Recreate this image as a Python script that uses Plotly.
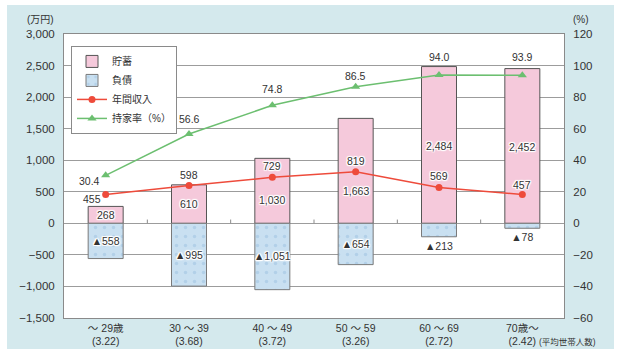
import plotly.graph_objects as go

# ---- data ----
categories = ["～ 29歳<br>(3.22)", "30 ～ 39<br>(3.68)", "40 ～ 49<br>(3.72)",
              "50 ～ 59<br>(3.26)", "60 ～ 69<br>(2.72)", "70歳～<br>(2.42)"]
savings = [268, 610, 1030, 1663, 2484, 2452]
debt = [-558, -995, -1051, -654, -213, -78]
income = [455, 598, 729, 819, 569, 457]
ownership = [30.4, 56.6, 74.8, 86.5, 94.0, 93.9]
series_names = ["貯蓄", "負債", "年間収入", "持家率（%）"]
left_unit = "(万円)"
right_unit = "(%)"
household_note = "(平均世帯人数)"

# ---- style ----
FONT = "Liberation Sans, Noto Sans CJK JP, sans-serif"
TXT = "#333333"
GRID = "#9c9c9c"
FRAME = "#8a8a8a"
PANEL = "#d4e9ed"
PINK = "#f5c9db"
BLUE = "#c9e0f1"
RED = "#ee4b3b"
GREEN = "#6cbf70"
HALO = ("1px 1px 1px #fff, -1px -1px 1px #fff, 1px -1px 1px #fff, -1px 1px 1px #fff, "
        "0 1px 1px #fff, 0 -1px 1px #fff, 1px 0 1px #fff, -1px 0 1px #fff")

sav_yshift = [0, 0, -9, -20, -1, -1]
debt_textpos = ["inside", "inside", "inside", "inside", "outside", "outside"]
inc_xshift = [-14, 0, 0, 0, 0, 0]
inc_yshift = [-4, 11, 11, 11, 11, 9]
own_xshift = [-16, 0, 0, 0, 0, 0]
own_yshift = [-6, 15, 16, 11, 18, 18]

xs = list(range(len(categories)))

fig = go.Figure()

fig.add_trace(go.Bar(
    x=xs, y=savings, name=series_names[0], width=0.42,
    marker=dict(color=PINK, line=dict(color="#555555", width=1)),
    hoverinfo="skip",
))
fig.add_trace(go.Bar(
    x=xs, y=debt, name=series_names[1], width=0.42,
    marker=dict(color=BLUE, line=dict(color="#7a7a7a", width=1),
                pattern=dict(shape=".", fgcolor="#9bbfdf", bgcolor=BLUE, size=9, solidity=0.12)),
    text=[f"▲{-d:,}" for d in debt], textposition=debt_textpos,
    insidetextanchor="middle", constraintext="none", textangle=0, cliponaxis=False,
    textfont=dict(family=FONT, size=10.5, color=TXT, shadow=HALO),
    hoverinfo="skip",
))
fig.add_trace(go.Scatter(
    x=xs, y=income, name=series_names[2], mode="lines+markers",
    line=dict(color=RED, width=1.5), marker=dict(color=RED, size=7, symbol="circle"),
    hoverinfo="skip",
))
fig.add_trace(go.Scatter(
    x=xs, y=ownership, name=series_names[3], mode="lines+markers", yaxis="y2",
    line=dict(color=GREEN, width=1.5), marker=dict(color=GREEN, size=8, symbol="triangle-up"),
    hoverinfo="skip",
))

# small separator ticks on the zero line between categories
sep_x, sep_y = [], []
for i in range(len(categories) - 1):
    sep_x += [i + 0.5, i + 0.5, None]
    sep_y += [0, 60, None]
fig.add_trace(go.Scatter(x=sep_x, y=sep_y, mode="lines", line=dict(color=FRAME, width=1),
                         showlegend=False, hoverinfo="skip"))

# value labels
for i, v in enumerate(savings):
    fig.add_annotation(x=i, y=v / 2, xref="x", yref="y", text=f"{v:,}", showarrow=False,
                       yshift=sav_yshift[i],
                       font=dict(family=FONT, size=10.5, color=TXT, shadow=HALO))
for i, v in enumerate(income):
    fig.add_annotation(x=i, y=v, xref="x", yref="y", text=f"{v:,}", showarrow=False,
                       xshift=inc_xshift[i], yshift=inc_yshift[i],
                       font=dict(family=FONT, size=10.5, color=TXT, shadow=HALO))
for i, v in enumerate(ownership):
    fig.add_annotation(x=i, y=v, xref="x", yref="y2", text=f"{v:.1f}", showarrow=False,
                       xshift=own_xshift[i], yshift=own_yshift[i],
                       font=dict(family=FONT, size=10.5, color=TXT, shadow=HALO))

# units and note
fig.add_annotation(xref="paper", yref="paper", x=-0.016, y=1.05, xanchor="right", yanchor="middle",
                   text=left_unit, showarrow=False, font=dict(family=FONT, size=10, color=TXT))
fig.add_annotation(xref="paper", yref="paper", x=1.014, y=1.05, xanchor="left", yanchor="middle",
                   text=right_unit, showarrow=False, font=dict(family=FONT, size=10, color=TXT))
fig.add_annotation(xref="paper", yref="paper", x=0.946, y=-0.085, xanchor="left", yanchor="middle",
                   text=household_note, showarrow=False, font=dict(family=FONT, size=8.5, color=TXT))

fig.update_layout(
    width=618, height=356,
    margin=dict(l=64, r=54, t=34, b=38, autoexpand=False),
    paper_bgcolor="white", plot_bgcolor="white",
    font=dict(family=FONT, color=TXT),
    barmode="relative",
    separators=".,",
    showlegend=True,
    legend=dict(x=0.014, y=0.958, xanchor="left", yanchor="top", bgcolor="white",
                bordercolor=FRAME, borderwidth=1, traceorder="normal", itemwidth=30,
                tracegroupgap=0,
                font=dict(family=FONT, size=10, color=TXT)),
    xaxis=dict(range=[-0.5, len(categories) - 0.5], tickvals=xs, ticktext=categories,
               showgrid=False, zeroline=False, showline=True, mirror=True, linecolor=FRAME,
               ticks="", automargin=False, tickfont=dict(family=FONT, size=10.5, color=TXT)),
    yaxis=dict(range=[-1500, 3000], dtick=500, tick0=0, tickformat=",",
               showgrid=True, gridcolor=GRID, gridwidth=1, zeroline=False,
               showline=True, mirror=True, linecolor=FRAME, ticks="", automargin=False,
               ticklabelstandoff=6, tickfont=dict(family=FONT, size=11.5, color=TXT)),
    yaxis2=dict(range=[-60, 120], dtick=20, tick0=0, overlaying="y", side="right",
                showgrid=False, zeroline=False, showline=True, linecolor=FRAME, ticks="",
                automargin=False,
                ticklabelstandoff=6, tickfont=dict(family=FONT, size=11.5, color=TXT)),
    shapes=[
        dict(type="rect", xref="paper", yref="paper", x0=-0.114, x1=1.1, y0=-0.109, y1=1.102,
             fillcolor=PANEL, line=dict(width=0), layer="below"),
        dict(type="rect", xref="paper", yref="paper", x0=0, x1=1, y0=0, y1=1,
             fillcolor="white", line=dict(width=0), layer="below"),
    ],
)

fig.write_html("out.html", config={"displayModeBar": False},
               post_script="document.body.style.margin='0';document.body.style.padding='0';"
                           "document.body.style.overflow='hidden';")
